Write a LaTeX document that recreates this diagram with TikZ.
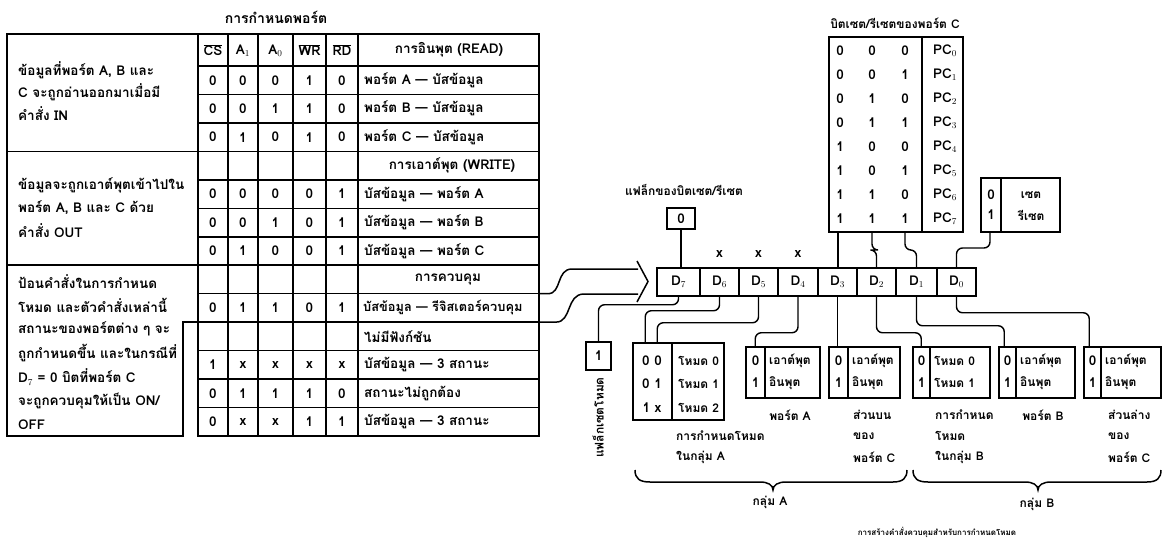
\documentclass[tikz,border=0pt]{standalone}
\usepackage{fontspec}
\setmainfont{Loma}[Script=Thai]
\usetikzlibrary{calc}
\newcommand{\fontA}{\bfseries\fontsize{13.5}{15}\selectfont}
\newcommand{\fontAs}{\bfseries\fontsize{12.8}{15}\selectfont}
\newcommand{\fontB}{\bfseries\fontsize{12}{14}\selectfont}
\newcommand{\fontC}{\bfseries\fontsize{8}{10}\selectfont}
\newcommand{\fontT}{\bfseries\fontsize{14}{16}\selectfont}
\begin{document}
\begin{tikzpicture}[x=1pt,y=-1pt,
  ln/.style={line width=1.5pt},
  bx/.style={draw,line width=1.5pt,inner sep=0pt},
  conn/.style={line width=1.4pt,rounded corners=6pt},
  t/.style={inner sep=0pt,font=\fontA},
  s/.style={inner sep=0pt,font=\fontB},
  c/.style={inner sep=0pt,font=\fontC}]
\useasboundingbox[fill=white] (0,0) rectangle (1165,549);

% ---------------- left table ----------------
\node[inner sep=0pt,font=\fontT] (ttl) at (276,17) {การกำหนดพอร์ต};
\draw[ln] (198,34) rectangle (539,436);
\draw[ln] (198,66) -- (539,66);
\foreach \k in {1,...,12}{\draw[ln] (198,{66+28.46*\k}) -- (539,{66+28.46*\k});}
\foreach \xx in {228,258,293,326,358}{\draw[ln] (\xx,34) -- (\xx,436);}
\draw[ln] (198,34) -- (7,34) -- (7,436) -- (183,436) -- (183,322.1) -- (198,322.1);
\draw[ln] (7,151.4) -- (198,151.4);
\draw[ln] (7,265.2) -- (198,265.2);

\node[t] (hcs) at (213,50) {$\overline{\hbox{CS}}$};
\node[t] (ha1) at (243,51) {A$_1$};
\node[t] (ha0) at (275.5,51) {A$_0$};
\node[t] (hwr) at (309.5,50) {$\overline{\hbox{WR}}$};
\node[t] (hrd) at (342,50) {$\overline{\hbox{RD}}$};
\node[t] (hread) at (449,50) {การอินพุต (READ)};

\foreach \k/\a/\b/\c/\d/\e/\lab in {
 1/0/0/0/1/0/{พอร์ต A — บัสข้อมูล},
 2/0/0/1/1/0/{พอร์ต B — บัสข้อมูล},
 3/0/1/0/1/0/{พอร์ต C — บัสข้อมูล},
 5/0/0/0/0/1/{บัสข้อมูล — พอร์ต A},
 6/0/0/1/0/1/{บัสข้อมูล — พอร์ต B},
 7/0/1/0/0/1/{บัสข้อมูล — พอร์ต C},
 9/0/1/1/0/1/{},
 11/1/x/x/x/x/{บัสข้อมูล — 3 สถานะ},
 12/0/1/1/1/0/{สถานะไม่ถูกต้อง},
 13/0/x/x/1/1/{บัสข้อมูล — 3 สถานะ}}
{\pgfmathsetmacro\yy{66+28.46*(\k-0.5)}
 \node[t] (ra\k) at (213,\yy) {\a};
 \node[t] (rb\k) at (243,\yy) {\b};
 \node[t] (rc\k) at (275.5,\yy) {\c};
 \node[t] (rd\k) at (309.5,\yy) {\d};
 \node[t] (re\k) at (342,\yy) {\e};
 \node[t,anchor=west] (rl\k) at (364,\yy) {\lab};}
\node[inner sep=0pt,font=\fontAs,anchor=west] (rl9b) at (363,{66+28.46*8.5}) {บัสข้อมูล — รีจิสเตอร์ควบคุม};
\node[t] (hwrite) at (452,{66+28.46*3.5}) {การเอาต์พุต (WRITE)};
\node[t] (hctl) at (448,{66+28.46*7.5}) {การควบคุม};
\node[t,anchor=west] (rl10) at (364,{66+28.46*9.5}) {ไม่มีฟังก์ชัน};

\foreach \n/\yy/\txt in {
 a1/70/{ข้อมูลที่พอร์ต A, B และ},
 a2/92/{C จะถูกอ่านออกมาเมื่อมี},
 a3/114/{คำสั่ง IN},
 b1/185/{ข้อมูลจะถูกเอาต์พุตเข้าไปใน},
 b2/208/{พอร์ต A, B และ C ด้วย},
 b3/231/{คำสั่ง OUT},
 c1/282/{ป้อนคำสั่งในการกำหนด},
 c2/305/{โหมด และตัวคำสั่งเหล่านี้},
 c3/329/{สถานะของพอร์ตต่าง ๆ จะ},
 c4/353/{ถูกกำหนดขึ้น และในกรณีที่},
 c5/377/{D$_7$ = 0 บิตที่พอร์ต C},
 c6/401/{จะถูกควบคุมให้เป็น ON/},
 c7/425/{OFF}}
{\node[t,anchor=west] (d\n) at (18,\yy) {\txt};}

% ---------------- big arrow ----------------
\coordinate (au) at (539,293.7);
\coordinate (al) at (539,322.1);
\draw[ln] (au) -- (548,293.7) .. controls (562,293.7) and (556,269) .. (572,269) -- (638,269);
\draw[ln] (al) -- (556,322.1) .. controls (572,322.1) and (566,294) .. (584,294) -- (638,294);
\draw[ln] (637,261) -- (648,281.5) -- (637,302);

% ---------------- register ----------------
\foreach \n/\xc/\w in {7/678.5/43,6/719.5/39,5/758.5/39,4/798/40,3/837.5/39,2/876.5/39,1/916.5/41,0/956.5/39}
{\node[bx,t,minimum width=\w pt,minimum height=28pt] (D\n) at (\xc,282) {D$_\n$};}
\node[t] (x6) at (719.5,254) {x};
\node[t] (x5) at (758.5,254) {x};
\node[t] (x4) at (798,254) {x};

% flag of bit set/reset
\node[s] (flagt) at (684,190) {แฟล็กของบิตเซต/รีเซต};
\node[bx,t,minimum width=28pt,minimum height=21pt] (flag0) at (681,218.5) {0};
\draw[ln] (flag0.south) -- (flag0.south |- D7.north);

% PC table
\node[s] (pct) at (895,23) {บิตเซต/รีเซตของพอร์ต C};
\node[bx,minimum width=134pt,minimum height=195pt] (pc) at (896,134.5) {};
\draw[ln] (922,37) -- (922,232);
\foreach \j/\p/\q/\r in {0/0/0/0,1/0/0/1,2/0/1/0,3/0/1/1,4/1/0/0,5/1/0/1,6/1/1/0,7/1/1/1}
{\pgfmathsetmacro\yy{51+24*\j}
 \node[t] (pa\j) at (840,\yy) {\p};
 \node[t] (pb\j) at (872,\yy) {\q};
 \node[t] (pd\j) at (905,\yy) {\r};
 \node[t] (pl\j) at (945,\yy) {PC$_\j$};}
\coordinate (pc3) at (838,232);
\coordinate (pc2) at (872,232);
\coordinate (pc1) at (905,232);
\draw[ln] (pc3) -- (pc3 |- D3.north);
\draw[conn] (pc2) -- (872,250) -| (D2.north);
\draw[conn] (pc1) -- (905,250) -| (D1.north);

% set/reset box
\node[bx,minimum width=79pt,minimum height=54pt] (sr) at (1020.5,205) {};
\draw[ln] (1001,178) -- (1001,232);
\node[t] (sr0) at (991,195) {0};
\node[t] (sr1) at (991,215) {1};
\node[s] (srs) at (1031,195) {เซต};
\node[s] (srr) at (1031,215) {รีเซต};
\coordinate (srb) at (990,232);
\draw[conn] (srb) -- (990,248) -| (D0.north);

% ---------------- lower boxes ----------------
\node[bx,t,minimum width=25pt,minimum height=28pt] (f1) at (598.5,356) {1};
\draw[conn] (D7.south) -- ++(0,8) -| (f1.north);
\node[s,rotate=90,anchor=east] (f1t) at (598,377) {แฟล็กเซตโหมด};

% mode group A
\node[bx,minimum width=91pt,minimum height=77pt] (mA) at (678.5,381.5) {};
\draw[ln] (672,343) -- (672,420);
\foreach \i/\yy/\l/\r in {1/361/{0 0}/{โหมด 0},2/384/{0 1}/{โหมด 1},3/408/{1 x}/{โหมด 2}}
{\node[t] (mal\i) at (652,\yy) {\l};
 \node[s,anchor=west] (mar\i) at (678,\yy) {\r};}
\draw[conn] (D6.south) -- ++(0,14) -| ([xshift=13pt]mA.north west);
\draw[conn] (D5.south) -- ++(0,26) -| ([xshift=25pt]mA.north west);

% generic 2-row boxes
\foreach \n/\xl/\xr/\xd/\la/\lb in {
 pA/746/820/765/{เอาต์พุต}/{อินพุต},
 pCu/829/900/848/{เอาต์พุต}/{อินพุต},
 mB/913/990/930/{โหมด 0}/{โหมด 1},
 pB/999/1075/1016/{เอาต์พุต}/{อินพุต},
 pCl/1084/1161/1101/{เอาต์พุต}/{อินพุต}}
{\node[bx,minimum width={\xr-\xl},minimum height=51pt] (\n) at ({(\xl+\xr)/2},372.5) {};
 \draw[ln] (\xd,347) -- (\xd,398);
 \node[t] (\n z) at ({(\xl+\xd)/2},361) {0};
 \node[t] (\n o) at ({(\xl+\xd)/2},383) {1};
 \node[s,anchor=west] (\n a) at ({\xd+4},361) {\la};
 \node[s,anchor=west] (\n b) at ({\xd+4},383) {\lb};}

\draw[conn] (D4.south) -- ++(0,36) -| ([xshift=10pt]pA.north west);
\draw[ln] (D3.south) -- (D3.south |- pCu.north);
\draw[conn] (D2.south) -- ++(0,36) -| ([xshift=9pt]mB.north west);
\draw[conn] (D1.south) -- ++(0,29) -| ([xshift=6pt]pB.north west);
\draw[conn] (D0.south) -- ++(0,16) -| ([xshift=6pt]pCl.north west);

% labels under boxes
\node[s,anchor=west] (lmA1) at (676,436) {การกำหนดโหมด};
\node[s,anchor=west] (lmA2) at (676,457) {ในกลุ่ม A};
\node[s] (lpA) at (790,415) {พอร์ต A};
\node[s,anchor=west] (lcu1) at (853,415) {ส่วนบน};
\node[s,anchor=west] (lcu2) at (853,436) {ของ};
\node[s,anchor=west] (lcu3) at (853,457) {พอร์ต C};
\node[s,anchor=west] (lmB1) at (935,415) {การกำหนด};
\node[s,anchor=west] (lmB2) at (935,436) {โหมด};
\node[s,anchor=west] (lmB3) at (935,457) {ในกลุ่ม B};
\node[s] (lpB) at (1043,415) {พอร์ต B};
\node[s,anchor=west] (lcl1) at (1108,415) {ส่วนล่าง};
\node[s,anchor=west] (lcl2) at (1108,436) {ของ};
\node[s,anchor=west] (lcl3) at (1108,457) {พอร์ต C};

% braces
\draw[ln] (635,470) .. controls (635,479) and (640,482) .. (650,482) -- (760,482)
  .. controls (768,482) and (773,485) .. (773,490) .. controls (773,485) and (778,482) .. (786,482)
  -- (893,482) .. controls (903,482) and (907,478) .. (907,470);
\draw[ln] (913,470) .. controls (913,479) and (918,482) .. (928,482) -- (1025,482)
  .. controls (1033,482) and (1038,485) .. (1038,490) .. controls (1038,485) and (1043,482) .. (1051,482)
  -- (1147,482) .. controls (1157,482) and (1161,478) .. (1161,470);
\node[s] (gA) at (770,502) {กลุ่ม A};
\node[s] (gB) at (1037,504) {กลุ่ม B};
\node[c] (cap) at (937,532) {การสร้างคำสั่งควบคุมสำหรับการกำหนดโหมด};
\end{tikzpicture}
\end{document}
